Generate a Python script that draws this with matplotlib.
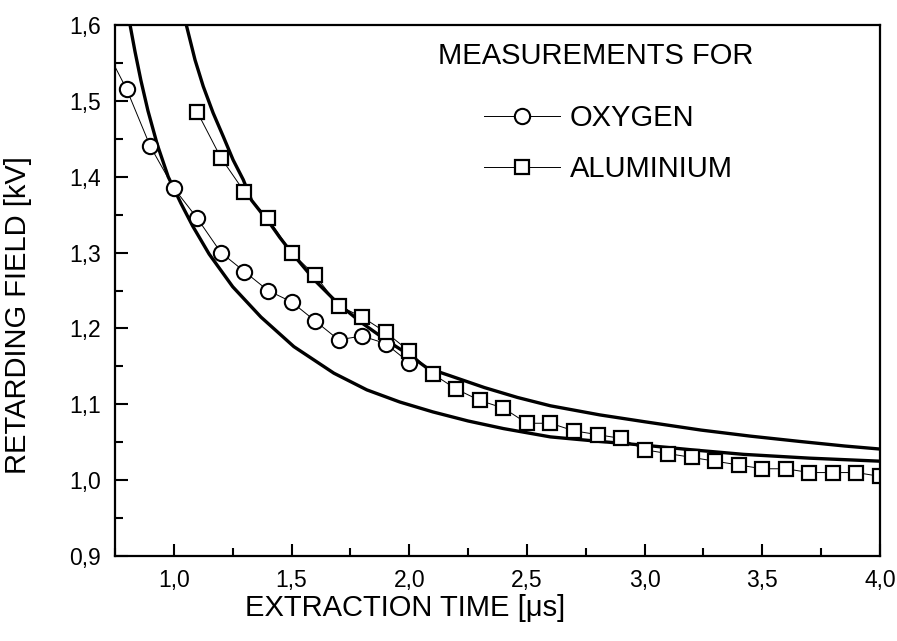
import matplotlib
matplotlib.use("Agg")
import matplotlib.pyplot as plt
from matplotlib.ticker import MultipleLocator

plt.rcParams['font.family'] = ['Liberation Sans', 'DejaVu Sans']

# measured points
oxygen_t = [0.7, 0.8, 0.9, 1.0, 1.1, 1.2, 1.3, 1.4, 1.5, 1.6, 1.7, 1.8, 1.9, 2.0]
oxygen_u = [1.575, 1.515, 1.44, 1.385, 1.345, 1.30, 1.275, 1.25, 1.235, 1.21,
            1.185, 1.19, 1.18, 1.155]

alu_t = [1.1, 1.2, 1.3, 1.4, 1.5, 1.6, 1.7, 1.8, 1.9, 2.0,
         2.1, 2.2, 2.3, 2.4, 2.5, 2.6, 2.7, 2.8, 2.9, 3.0,
         3.1, 3.2, 3.3, 3.4, 3.5, 3.6, 3.7, 3.8, 3.9, 4.0]
alu_u = [1.485, 1.425, 1.38, 1.345, 1.30, 1.27, 1.23, 1.215, 1.195, 1.17,
         1.14, 1.12, 1.105, 1.095, 1.075, 1.075, 1.065, 1.06, 1.055, 1.04,
         1.035, 1.03, 1.025, 1.02, 1.015, 1.015, 1.01, 1.01, 1.01, 1.005]

# calculated curves
upper_t = [1.053, 1.09, 1.125, 1.167, 1.21, 1.252, 1.295, 1.33, 1.373, 1.40,
           1.45, 1.50, 1.60, 1.70, 1.80, 1.90, 2.00, 2.075, 2.17, 2.32,
           2.46, 2.60, 2.81, 3.00, 3.24, 3.45, 3.66, 3.85, 4.00]
upper_u = [1.600, 1.554, 1.519, 1.484, 1.453, 1.422, 1.396, 1.369, 1.352, 1.342,
           1.320, 1.300, 1.263, 1.232, 1.207, 1.185, 1.165, 1.148, 1.138, 1.122,
           1.109, 1.098, 1.086, 1.077, 1.066, 1.058, 1.051, 1.045, 1.041]

lower_t = [0.814, 0.835, 0.86, 0.89, 0.93, 0.976, 1.03, 1.08, 1.15, 1.25, 1.37,
           1.51, 1.68, 1.82, 1.96, 2.10, 2.25, 2.40, 2.60, 2.81, 3.00,
           3.20, 3.42, 3.70, 4.00]
lower_u = [1.600, 1.565, 1.527, 1.487, 1.442, 1.400, 1.365, 1.335, 1.298, 1.255, 1.215,
           1.176, 1.141, 1.119, 1.103, 1.090, 1.078, 1.068, 1.057, 1.051, 1.046,
           1.040, 1.034, 1.029, 1.025]

x_ticks = [1.0, 1.5, 2.0, 2.5, 3.0, 3.5, 4.0]
x_labels = ['1,0', '1,5', '2,0', '2,5', '3,0', '3,5', '4,0']
y_ticks = [0.9, 1.0, 1.1, 1.2, 1.3, 1.4, 1.5, 1.6]
y_labels = ['0,9', '1,0', '1,1', '1,2', '1,3', '1,4', '1,5', '1,6']

fig = plt.figure(figsize=(8.97, 6.41), dpi=100)
ax = fig.add_axes([0.1282, 0.1326, 0.8528, 0.8284])

ax.plot(upper_t, upper_u, color='black', lw=2.4)
ax.plot(lower_t, lower_u, color='black', lw=2.4)
ax.plot(oxygen_t, oxygen_u, color='black', lw=0.7, marker='o', ms=11,
        mfc='white', mec='black', mew=1.5, label='OXYGEN')
ax.plot(alu_t, alu_u, color='black', lw=0.7, marker='s', ms=10,
        mfc='white', mec='black', mew=1.6, label='ALUMINIUM')

ax.set_xlim(0.75, 4.0)
ax.set_ylim(0.9, 1.6)
ax.set_xticks(x_ticks)
ax.set_xticklabels(x_labels)
ax.set_yticks(y_ticks)
ax.set_yticklabels(y_labels)
ax.xaxis.set_minor_locator(MultipleLocator(0.25))
ax.yaxis.set_minor_locator(MultipleLocator(0.05))
ax.tick_params(which='both', direction='in', width=1.5, labelsize=16.5)
ax.tick_params(which='major', length=9)
ax.tick_params(which='minor', length=6)
ax.tick_params(axis='y', pad=10)
ax.tick_params(axis='x', pad=9)
for s in ax.spines.values():
    s.set_linewidth(1.6)

ax.set_xlabel('EXTRACTION TIME [μs]', fontsize=21)
ax.xaxis.set_label_coords(0.379, -0.072)
ax.set_ylabel('RETARDING FIELD [kV]', fontsize=21)
ax.yaxis.set_label_coords(-0.108, 0.454)

ax.text(0.629, 0.941, 'MEASUREMENTS FOR', transform=ax.transAxes,
        fontsize=21, ha='center', va='center')
ax.legend(loc='upper left', bbox_to_anchor=(0.482, 0.851), frameon=False,
          fontsize=21, borderpad=0, borderaxespad=0,
          handlelength=2.6, handletextpad=0.35, labelspacing=0.8)

fig.savefig('out.png', dpi=100)
